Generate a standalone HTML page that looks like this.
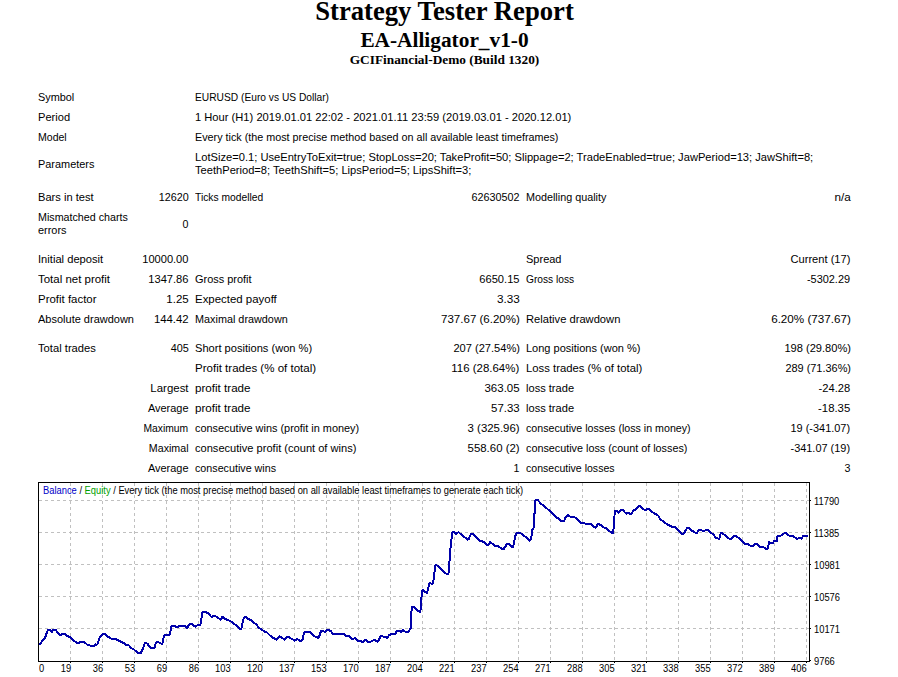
<!DOCTYPE html>
<html><head><meta charset="utf-8"><style>
html,body{margin:0;padding:0;background:#fff;width:898px;height:677px;overflow:hidden;position:relative}
.t{position:absolute;font-family:"Liberation Sans",sans-serif;font-size:10.67px;line-height:13px;white-space:nowrap;color:#000}
.c{position:absolute;font-family:"Liberation Sans",sans-serif;font-size:10px;line-height:12px;white-space:nowrap;color:#000;transform:scaleX(0.935);transform-origin:left center}
.c.rr{transform-origin:right center}
.h{position:absolute;left:0;width:889px;text-align:center;font-family:"Liberation Serif",serif;font-weight:bold;white-space:nowrap;color:#000}
</style></head><body>
<div class="h" style="top:-4px;font-size:26.67px;line-height:30px">Strategy Tester Report</div>
<div class="h" style="top:28px;font-size:21.33px;line-height:24px">EA-Alligator_v1-0</div>
<div class="h" style="top:52px;font-size:13.33px;line-height:16px">GCIFinancial-Demo (Build 1320)</div>
<div class="t" style="top:91px;left:38px;transform:scaleX(1.021);transform-origin:left center">Symbol</div>
<div class="t" style="top:91px;left:195px;transform:scaleX(0.959);transform-origin:left center">EURUSD (Euro vs US Dollar)</div>
<div class="t" style="top:111px;left:38px;transform:scaleX(1.041);transform-origin:left center">Period</div>
<div class="t" style="top:111px;left:195px;transform:scaleX(1.047);transform-origin:left center">1 Hour (H1) 2019.01.01 22:02 - 2021.01.11 23:59 (2019.03.01 - 2020.12.01)</div>
<div class="t" style="top:131px;left:38px;transform:scaleX(0.989);transform-origin:left center">Model</div>
<div class="t" style="top:131px;left:195px;transform:scaleX(1.011);transform-origin:left center">Every tick (the most precise method based on all available least timeframes)</div>
<div class="t" style="top:158px;left:38px;transform:scaleX(1.024);transform-origin:left center">Parameters</div>
<div class="t" style="top:151px;left:195px;transform:scaleX(1.046);transform-origin:left center">LotSize=0.1; UseEntryToExit=true; StopLoss=20; TakeProfit=50; Slippage=2; TradeEnabled=true; JawPeriod=13; JawShift=8;</div>
<div class="t" style="top:164px;left:195px;transform:scaleX(1.044);transform-origin:left center">TeethPeriod=8; TeethShift=5; LipsPeriod=5; LipsShift=3;</div>
<div class="t" style="top:191px;left:38px;transform:scaleX(1.044);transform-origin:left center">Bars in test</div>
<div class="t" style="top:191px;right:709.5px;transform:scaleX(1.011);transform-origin:right center">12620</div>
<div class="t" style="top:191px;left:195px;transform:scaleX(0.964);transform-origin:left center">Ticks modelled</div>
<div class="t" style="top:191px;right:378.5px;transform:scaleX(1.013);transform-origin:right center">62630502</div>
<div class="t" style="top:191px;left:526px;transform:scaleX(1.012);transform-origin:left center">Modelling quality</div>
<div class="t" style="top:191px;right:47.5px;transform:scaleX(1.1);transform-origin:right center">n/a</div>
<div class="t" style="top:211px;left:38px;transform:scaleX(1.005);transform-origin:left center">Mismatched charts</div>
<div class="t" style="top:224px;left:38px;transform:scaleX(1.025);transform-origin:left center">errors</div>
<div class="t" style="top:218px;right:709.5px">0</div>
<div class="t" style="top:253px;left:38px;transform:scaleX(1.048);transform-origin:left center">Initial deposit</div>
<div class="t" style="top:253px;right:709.5px;transform:scaleX(1.04);transform-origin:right center">10000.00</div>
<div class="t" style="top:253px;left:526px;transform:scaleX(1.033);transform-origin:left center">Spread</div>
<div class="t" style="top:253px;right:47.5px;transform:scaleX(1.044);transform-origin:right center">Current (17)</div>
<div class="t" style="top:273px;left:38px;transform:scaleX(1.076);transform-origin:left center">Total net profit</div>
<div class="t" style="top:273px;right:709.5px;transform:scaleX(1.046);transform-origin:right center">1347.86</div>
<div class="t" style="top:273px;left:195px;transform:scaleX(1.027);transform-origin:left center">Gross profit</div>
<div class="t" style="top:273px;right:378.5px;transform:scaleX(1.045);transform-origin:right center">6650.15</div>
<div class="t" style="top:273px;left:526px;transform:scaleX(0.956);transform-origin:left center">Gross loss</div>
<div class="t" style="top:273px;right:47.5px;transform:scaleX(1.026);transform-origin:right center">-5302.29</div>
<div class="t" style="top:293px;left:38px;transform:scaleX(1.074);transform-origin:left center">Profit factor</div>
<div class="t" style="top:293px;right:709.5px;transform:scaleX(1.079);transform-origin:right center">1.25</div>
<div class="t" style="top:293px;left:195px;transform:scaleX(1.073);transform-origin:left center">Expected payoff</div>
<div class="t" style="top:293px;right:378.5px;transform:scaleX(1.1);transform-origin:right center">3.33</div>
<div class="t" style="top:313px;left:38px;transform:scaleX(1.032);transform-origin:left center">Absolute drawdown</div>
<div class="t" style="top:313px;right:709.5px;transform:scaleX(1.065);transform-origin:right center">144.42</div>
<div class="t" style="top:313px;left:195px;transform:scaleX(1.017);transform-origin:left center">Maximal drawdown</div>
<div class="t" style="top:313px;right:378.5px;transform:scaleX(1.082);transform-origin:right center">737.67 (6.20%)</div>
<div class="t" style="top:313px;left:526px;transform:scaleX(1.048);transform-origin:left center">Relative drawdown</div>
<div class="t" style="top:313px;right:47.5px;transform:scaleX(1.094);transform-origin:right center">6.20% (737.67)</div>
<div class="t" style="top:342px;left:38px;transform:scaleX(1.051);transform-origin:left center">Total trades</div>
<div class="t" style="top:342px;right:709.5px;transform:scaleX(1.018);transform-origin:right center">405</div>
<div class="t" style="top:342px;left:195px;transform:scaleX(1.041);transform-origin:left center">Short positions (won %)</div>
<div class="t" style="top:342px;right:378.5px;transform:scaleX(1.041);transform-origin:right center">207 (27.54%)</div>
<div class="t" style="top:342px;left:526px;transform:scaleX(1.033);transform-origin:left center">Long positions (won %)</div>
<div class="t" style="top:342px;right:47.5px;transform:scaleX(1.041);transform-origin:right center">198 (29.80%)</div>
<div class="t" style="top:362px;left:195px;transform:scaleX(1.082);transform-origin:left center">Profit trades (% of total)</div>
<div class="t" style="top:362px;right:378.5px;transform:scaleX(1.074);transform-origin:right center">116 (28.64%)</div>
<div class="t" style="top:362px;left:526px;transform:scaleX(1.061);transform-origin:left center">Loss trades (% of total)</div>
<div class="t" style="top:362px;right:47.5px;transform:scaleX(1.025);transform-origin:right center">289 (71.36%)</div>
<div class="t" style="top:382px;right:709.5px;transform:scaleX(1.074);transform-origin:right center">Largest</div>
<div class="t" style="top:382px;left:195px;transform:scaleX(1.09);transform-origin:left center">profit trade</div>
<div class="t" style="top:382px;right:378.5px;transform:scaleX(1.077);transform-origin:right center">363.05</div>
<div class="t" style="top:382px;left:526px;transform:scaleX(1.04);transform-origin:left center">loss trade</div>
<div class="t" style="top:382px;right:47.5px;transform:scaleX(1.047);transform-origin:right center">-24.28</div>
<div class="t" style="top:402px;right:709.5px;transform:scaleX(1.026);transform-origin:right center">Average</div>
<div class="t" style="top:402px;left:195px;transform:scaleX(1.09);transform-origin:left center">profit trade</div>
<div class="t" style="top:402px;right:378.5px;transform:scaleX(1.072);transform-origin:right center">57.33</div>
<div class="t" style="top:402px;left:526px;transform:scaleX(1.04);transform-origin:left center">loss trade</div>
<div class="t" style="top:402px;right:47.5px;transform:scaleX(1.063);transform-origin:right center">-18.35</div>
<div class="t" style="top:422px;right:709.5px;transform:scaleX(0.967);transform-origin:right center">Maximum</div>
<div class="t" style="top:422px;left:195px;transform:scaleX(1.023);transform-origin:left center">consecutive wins (profit in money)</div>
<div class="t" style="top:422px;right:378.5px;transform:scaleX(1.07);transform-origin:right center">3 (325.96)</div>
<div class="t" style="top:422px;left:526px">consecutive losses (loss in money)</div>
<div class="t" style="top:422px;right:47.5px;transform:scaleX(1.025);transform-origin:right center">19 (-341.07)</div>
<div class="t" style="top:442px;right:709.5px">Maximal</div>
<div class="t" style="top:442px;left:195px;transform:scaleX(1.04);transform-origin:left center">consecutive profit (count of wins)</div>
<div class="t" style="top:442px;right:378.5px;transform:scaleX(1.07);transform-origin:right center">558.60 (2)</div>
<div class="t" style="top:442px;left:526px;transform:scaleX(1.013);transform-origin:left center">consecutive loss (count of losses)</div>
<div class="t" style="top:442px;right:47.5px;transform:scaleX(1.026);transform-origin:right center">-341.07 (19)</div>
<div class="t" style="top:462px;right:709.5px;transform:scaleX(1.026);transform-origin:right center">Average</div>
<div class="t" style="top:462px;left:195px;transform:scaleX(1.006);transform-origin:left center">consecutive wins</div>
<div class="t" style="top:462px;right:378.5px">1</div>
<div class="t" style="top:462px;left:526px;transform:scaleX(0.99);transform-origin:left center">consecutive losses</div>
<div class="t" style="top:462px;right:47.5px">3</div>
<svg width="898" height="677" style="position:absolute;left:0;top:0">
<path fill="#c0c0c0" d="M70 483h1v3h-1zM70 489h1v3h-1zM70 495h1v3h-1zM70 501h1v3h-1zM70 507h1v3h-1zM70 513h1v3h-1zM70 519h1v3h-1zM70 525h1v3h-1zM70 531h1v3h-1zM70 537h1v3h-1zM70 543h1v3h-1zM70 549h1v3h-1zM70 555h1v3h-1zM70 561h1v3h-1zM70 567h1v3h-1zM70 573h1v3h-1zM70 579h1v3h-1zM70 585h1v3h-1zM70 591h1v3h-1zM70 597h1v3h-1zM70 603h1v3h-1zM70 609h1v3h-1zM70 615h1v3h-1zM70 621h1v3h-1zM70 627h1v3h-1zM70 633h1v3h-1zM70 639h1v3h-1zM70 645h1v3h-1zM70 651h1v3h-1zM70 657h1v3h-1zM102 483h1v3h-1zM102 489h1v3h-1zM102 495h1v3h-1zM102 501h1v3h-1zM102 507h1v3h-1zM102 513h1v3h-1zM102 519h1v3h-1zM102 525h1v3h-1zM102 531h1v3h-1zM102 537h1v3h-1zM102 543h1v3h-1zM102 549h1v3h-1zM102 555h1v3h-1zM102 561h1v3h-1zM102 567h1v3h-1zM102 573h1v3h-1zM102 579h1v3h-1zM102 585h1v3h-1zM102 591h1v3h-1zM102 597h1v3h-1zM102 603h1v3h-1zM102 609h1v3h-1zM102 615h1v3h-1zM102 621h1v3h-1zM102 627h1v3h-1zM102 633h1v3h-1zM102 639h1v3h-1zM102 645h1v3h-1zM102 651h1v3h-1zM102 657h1v3h-1zM134 483h1v3h-1zM134 489h1v3h-1zM134 495h1v3h-1zM134 501h1v3h-1zM134 507h1v3h-1zM134 513h1v3h-1zM134 519h1v3h-1zM134 525h1v3h-1zM134 531h1v3h-1zM134 537h1v3h-1zM134 543h1v3h-1zM134 549h1v3h-1zM134 555h1v3h-1zM134 561h1v3h-1zM134 567h1v3h-1zM134 573h1v3h-1zM134 579h1v3h-1zM134 585h1v3h-1zM134 591h1v3h-1zM134 597h1v3h-1zM134 603h1v3h-1zM134 609h1v3h-1zM134 615h1v3h-1zM134 621h1v3h-1zM134 627h1v3h-1zM134 633h1v3h-1zM134 639h1v3h-1zM134 645h1v3h-1zM134 651h1v3h-1zM134 657h1v3h-1zM166 483h1v3h-1zM166 489h1v3h-1zM166 495h1v3h-1zM166 501h1v3h-1zM166 507h1v3h-1zM166 513h1v3h-1zM166 519h1v3h-1zM166 525h1v3h-1zM166 531h1v3h-1zM166 537h1v3h-1zM166 543h1v3h-1zM166 549h1v3h-1zM166 555h1v3h-1zM166 561h1v3h-1zM166 567h1v3h-1zM166 573h1v3h-1zM166 579h1v3h-1zM166 585h1v3h-1zM166 591h1v3h-1zM166 597h1v3h-1zM166 603h1v3h-1zM166 609h1v3h-1zM166 615h1v3h-1zM166 621h1v3h-1zM166 627h1v3h-1zM166 633h1v3h-1zM166 639h1v3h-1zM166 645h1v3h-1zM166 651h1v3h-1zM166 657h1v3h-1zM198 483h1v3h-1zM198 489h1v3h-1zM198 495h1v3h-1zM198 501h1v3h-1zM198 507h1v3h-1zM198 513h1v3h-1zM198 519h1v3h-1zM198 525h1v3h-1zM198 531h1v3h-1zM198 537h1v3h-1zM198 543h1v3h-1zM198 549h1v3h-1zM198 555h1v3h-1zM198 561h1v3h-1zM198 567h1v3h-1zM198 573h1v3h-1zM198 579h1v3h-1zM198 585h1v3h-1zM198 591h1v3h-1zM198 597h1v3h-1zM198 603h1v3h-1zM198 609h1v3h-1zM198 615h1v3h-1zM198 621h1v3h-1zM198 627h1v3h-1zM198 633h1v3h-1zM198 639h1v3h-1zM198 645h1v3h-1zM198 651h1v3h-1zM198 657h1v3h-1zM230 483h1v3h-1zM230 489h1v3h-1zM230 495h1v3h-1zM230 501h1v3h-1zM230 507h1v3h-1zM230 513h1v3h-1zM230 519h1v3h-1zM230 525h1v3h-1zM230 531h1v3h-1zM230 537h1v3h-1zM230 543h1v3h-1zM230 549h1v3h-1zM230 555h1v3h-1zM230 561h1v3h-1zM230 567h1v3h-1zM230 573h1v3h-1zM230 579h1v3h-1zM230 585h1v3h-1zM230 591h1v3h-1zM230 597h1v3h-1zM230 603h1v3h-1zM230 609h1v3h-1zM230 615h1v3h-1zM230 621h1v3h-1zM230 627h1v3h-1zM230 633h1v3h-1zM230 639h1v3h-1zM230 645h1v3h-1zM230 651h1v3h-1zM230 657h1v3h-1zM262 483h1v3h-1zM262 489h1v3h-1zM262 495h1v3h-1zM262 501h1v3h-1zM262 507h1v3h-1zM262 513h1v3h-1zM262 519h1v3h-1zM262 525h1v3h-1zM262 531h1v3h-1zM262 537h1v3h-1zM262 543h1v3h-1zM262 549h1v3h-1zM262 555h1v3h-1zM262 561h1v3h-1zM262 567h1v3h-1zM262 573h1v3h-1zM262 579h1v3h-1zM262 585h1v3h-1zM262 591h1v3h-1zM262 597h1v3h-1zM262 603h1v3h-1zM262 609h1v3h-1zM262 615h1v3h-1zM262 621h1v3h-1zM262 627h1v3h-1zM262 633h1v3h-1zM262 639h1v3h-1zM262 645h1v3h-1zM262 651h1v3h-1zM262 657h1v3h-1zM294 483h1v3h-1zM294 489h1v3h-1zM294 495h1v3h-1zM294 501h1v3h-1zM294 507h1v3h-1zM294 513h1v3h-1zM294 519h1v3h-1zM294 525h1v3h-1zM294 531h1v3h-1zM294 537h1v3h-1zM294 543h1v3h-1zM294 549h1v3h-1zM294 555h1v3h-1zM294 561h1v3h-1zM294 567h1v3h-1zM294 573h1v3h-1zM294 579h1v3h-1zM294 585h1v3h-1zM294 591h1v3h-1zM294 597h1v3h-1zM294 603h1v3h-1zM294 609h1v3h-1zM294 615h1v3h-1zM294 621h1v3h-1zM294 627h1v3h-1zM294 633h1v3h-1zM294 639h1v3h-1zM294 645h1v3h-1zM294 651h1v3h-1zM294 657h1v3h-1zM326 483h1v3h-1zM326 489h1v3h-1zM326 495h1v3h-1zM326 501h1v3h-1zM326 507h1v3h-1zM326 513h1v3h-1zM326 519h1v3h-1zM326 525h1v3h-1zM326 531h1v3h-1zM326 537h1v3h-1zM326 543h1v3h-1zM326 549h1v3h-1zM326 555h1v3h-1zM326 561h1v3h-1zM326 567h1v3h-1zM326 573h1v3h-1zM326 579h1v3h-1zM326 585h1v3h-1zM326 591h1v3h-1zM326 597h1v3h-1zM326 603h1v3h-1zM326 609h1v3h-1zM326 615h1v3h-1zM326 621h1v3h-1zM326 627h1v3h-1zM326 633h1v3h-1zM326 639h1v3h-1zM326 645h1v3h-1zM326 651h1v3h-1zM326 657h1v3h-1zM358 483h1v3h-1zM358 489h1v3h-1zM358 495h1v3h-1zM358 501h1v3h-1zM358 507h1v3h-1zM358 513h1v3h-1zM358 519h1v3h-1zM358 525h1v3h-1zM358 531h1v3h-1zM358 537h1v3h-1zM358 543h1v3h-1zM358 549h1v3h-1zM358 555h1v3h-1zM358 561h1v3h-1zM358 567h1v3h-1zM358 573h1v3h-1zM358 579h1v3h-1zM358 585h1v3h-1zM358 591h1v3h-1zM358 597h1v3h-1zM358 603h1v3h-1zM358 609h1v3h-1zM358 615h1v3h-1zM358 621h1v3h-1zM358 627h1v3h-1zM358 633h1v3h-1zM358 639h1v3h-1zM358 645h1v3h-1zM358 651h1v3h-1zM358 657h1v3h-1zM390 483h1v3h-1zM390 489h1v3h-1zM390 495h1v3h-1zM390 501h1v3h-1zM390 507h1v3h-1zM390 513h1v3h-1zM390 519h1v3h-1zM390 525h1v3h-1zM390 531h1v3h-1zM390 537h1v3h-1zM390 543h1v3h-1zM390 549h1v3h-1zM390 555h1v3h-1zM390 561h1v3h-1zM390 567h1v3h-1zM390 573h1v3h-1zM390 579h1v3h-1zM390 585h1v3h-1zM390 591h1v3h-1zM390 597h1v3h-1zM390 603h1v3h-1zM390 609h1v3h-1zM390 615h1v3h-1zM390 621h1v3h-1zM390 627h1v3h-1zM390 633h1v3h-1zM390 639h1v3h-1zM390 645h1v3h-1zM390 651h1v3h-1zM390 657h1v3h-1zM422 483h1v3h-1zM422 489h1v3h-1zM422 495h1v3h-1zM422 501h1v3h-1zM422 507h1v3h-1zM422 513h1v3h-1zM422 519h1v3h-1zM422 525h1v3h-1zM422 531h1v3h-1zM422 537h1v3h-1zM422 543h1v3h-1zM422 549h1v3h-1zM422 555h1v3h-1zM422 561h1v3h-1zM422 567h1v3h-1zM422 573h1v3h-1zM422 579h1v3h-1zM422 585h1v3h-1zM422 591h1v3h-1zM422 597h1v3h-1zM422 603h1v3h-1zM422 609h1v3h-1zM422 615h1v3h-1zM422 621h1v3h-1zM422 627h1v3h-1zM422 633h1v3h-1zM422 639h1v3h-1zM422 645h1v3h-1zM422 651h1v3h-1zM422 657h1v3h-1zM454 483h1v3h-1zM454 489h1v3h-1zM454 495h1v3h-1zM454 501h1v3h-1zM454 507h1v3h-1zM454 513h1v3h-1zM454 519h1v3h-1zM454 525h1v3h-1zM454 531h1v3h-1zM454 537h1v3h-1zM454 543h1v3h-1zM454 549h1v3h-1zM454 555h1v3h-1zM454 561h1v3h-1zM454 567h1v3h-1zM454 573h1v3h-1zM454 579h1v3h-1zM454 585h1v3h-1zM454 591h1v3h-1zM454 597h1v3h-1zM454 603h1v3h-1zM454 609h1v3h-1zM454 615h1v3h-1zM454 621h1v3h-1zM454 627h1v3h-1zM454 633h1v3h-1zM454 639h1v3h-1zM454 645h1v3h-1zM454 651h1v3h-1zM454 657h1v3h-1zM486 483h1v3h-1zM486 489h1v3h-1zM486 495h1v3h-1zM486 501h1v3h-1zM486 507h1v3h-1zM486 513h1v3h-1zM486 519h1v3h-1zM486 525h1v3h-1zM486 531h1v3h-1zM486 537h1v3h-1zM486 543h1v3h-1zM486 549h1v3h-1zM486 555h1v3h-1zM486 561h1v3h-1zM486 567h1v3h-1zM486 573h1v3h-1zM486 579h1v3h-1zM486 585h1v3h-1zM486 591h1v3h-1zM486 597h1v3h-1zM486 603h1v3h-1zM486 609h1v3h-1zM486 615h1v3h-1zM486 621h1v3h-1zM486 627h1v3h-1zM486 633h1v3h-1zM486 639h1v3h-1zM486 645h1v3h-1zM486 651h1v3h-1zM486 657h1v3h-1zM518 483h1v3h-1zM518 489h1v3h-1zM518 495h1v3h-1zM518 501h1v3h-1zM518 507h1v3h-1zM518 513h1v3h-1zM518 519h1v3h-1zM518 525h1v3h-1zM518 531h1v3h-1zM518 537h1v3h-1zM518 543h1v3h-1zM518 549h1v3h-1zM518 555h1v3h-1zM518 561h1v3h-1zM518 567h1v3h-1zM518 573h1v3h-1zM518 579h1v3h-1zM518 585h1v3h-1zM518 591h1v3h-1zM518 597h1v3h-1zM518 603h1v3h-1zM518 609h1v3h-1zM518 615h1v3h-1zM518 621h1v3h-1zM518 627h1v3h-1zM518 633h1v3h-1zM518 639h1v3h-1zM518 645h1v3h-1zM518 651h1v3h-1zM518 657h1v3h-1zM550 483h1v3h-1zM550 489h1v3h-1zM550 495h1v3h-1zM550 501h1v3h-1zM550 507h1v3h-1zM550 513h1v3h-1zM550 519h1v3h-1zM550 525h1v3h-1zM550 531h1v3h-1zM550 537h1v3h-1zM550 543h1v3h-1zM550 549h1v3h-1zM550 555h1v3h-1zM550 561h1v3h-1zM550 567h1v3h-1zM550 573h1v3h-1zM550 579h1v3h-1zM550 585h1v3h-1zM550 591h1v3h-1zM550 597h1v3h-1zM550 603h1v3h-1zM550 609h1v3h-1zM550 615h1v3h-1zM550 621h1v3h-1zM550 627h1v3h-1zM550 633h1v3h-1zM550 639h1v3h-1zM550 645h1v3h-1zM550 651h1v3h-1zM550 657h1v3h-1zM582 483h1v3h-1zM582 489h1v3h-1zM582 495h1v3h-1zM582 501h1v3h-1zM582 507h1v3h-1zM582 513h1v3h-1zM582 519h1v3h-1zM582 525h1v3h-1zM582 531h1v3h-1zM582 537h1v3h-1zM582 543h1v3h-1zM582 549h1v3h-1zM582 555h1v3h-1zM582 561h1v3h-1zM582 567h1v3h-1zM582 573h1v3h-1zM582 579h1v3h-1zM582 585h1v3h-1zM582 591h1v3h-1zM582 597h1v3h-1zM582 603h1v3h-1zM582 609h1v3h-1zM582 615h1v3h-1zM582 621h1v3h-1zM582 627h1v3h-1zM582 633h1v3h-1zM582 639h1v3h-1zM582 645h1v3h-1zM582 651h1v3h-1zM582 657h1v3h-1zM614 483h1v3h-1zM614 489h1v3h-1zM614 495h1v3h-1zM614 501h1v3h-1zM614 507h1v3h-1zM614 513h1v3h-1zM614 519h1v3h-1zM614 525h1v3h-1zM614 531h1v3h-1zM614 537h1v3h-1zM614 543h1v3h-1zM614 549h1v3h-1zM614 555h1v3h-1zM614 561h1v3h-1zM614 567h1v3h-1zM614 573h1v3h-1zM614 579h1v3h-1zM614 585h1v3h-1zM614 591h1v3h-1zM614 597h1v3h-1zM614 603h1v3h-1zM614 609h1v3h-1zM614 615h1v3h-1zM614 621h1v3h-1zM614 627h1v3h-1zM614 633h1v3h-1zM614 639h1v3h-1zM614 645h1v3h-1zM614 651h1v3h-1zM614 657h1v3h-1zM646 483h1v3h-1zM646 489h1v3h-1zM646 495h1v3h-1zM646 501h1v3h-1zM646 507h1v3h-1zM646 513h1v3h-1zM646 519h1v3h-1zM646 525h1v3h-1zM646 531h1v3h-1zM646 537h1v3h-1zM646 543h1v3h-1zM646 549h1v3h-1zM646 555h1v3h-1zM646 561h1v3h-1zM646 567h1v3h-1zM646 573h1v3h-1zM646 579h1v3h-1zM646 585h1v3h-1zM646 591h1v3h-1zM646 597h1v3h-1zM646 603h1v3h-1zM646 609h1v3h-1zM646 615h1v3h-1zM646 621h1v3h-1zM646 627h1v3h-1zM646 633h1v3h-1zM646 639h1v3h-1zM646 645h1v3h-1zM646 651h1v3h-1zM646 657h1v3h-1zM678 483h1v3h-1zM678 489h1v3h-1zM678 495h1v3h-1zM678 501h1v3h-1zM678 507h1v3h-1zM678 513h1v3h-1zM678 519h1v3h-1zM678 525h1v3h-1zM678 531h1v3h-1zM678 537h1v3h-1zM678 543h1v3h-1zM678 549h1v3h-1zM678 555h1v3h-1zM678 561h1v3h-1zM678 567h1v3h-1zM678 573h1v3h-1zM678 579h1v3h-1zM678 585h1v3h-1zM678 591h1v3h-1zM678 597h1v3h-1zM678 603h1v3h-1zM678 609h1v3h-1zM678 615h1v3h-1zM678 621h1v3h-1zM678 627h1v3h-1zM678 633h1v3h-1zM678 639h1v3h-1zM678 645h1v3h-1zM678 651h1v3h-1zM678 657h1v3h-1zM710 483h1v3h-1zM710 489h1v3h-1zM710 495h1v3h-1zM710 501h1v3h-1zM710 507h1v3h-1zM710 513h1v3h-1zM710 519h1v3h-1zM710 525h1v3h-1zM710 531h1v3h-1zM710 537h1v3h-1zM710 543h1v3h-1zM710 549h1v3h-1zM710 555h1v3h-1zM710 561h1v3h-1zM710 567h1v3h-1zM710 573h1v3h-1zM710 579h1v3h-1zM710 585h1v3h-1zM710 591h1v3h-1zM710 597h1v3h-1zM710 603h1v3h-1zM710 609h1v3h-1zM710 615h1v3h-1zM710 621h1v3h-1zM710 627h1v3h-1zM710 633h1v3h-1zM710 639h1v3h-1zM710 645h1v3h-1zM710 651h1v3h-1zM710 657h1v3h-1zM742 483h1v3h-1zM742 489h1v3h-1zM742 495h1v3h-1zM742 501h1v3h-1zM742 507h1v3h-1zM742 513h1v3h-1zM742 519h1v3h-1zM742 525h1v3h-1zM742 531h1v3h-1zM742 537h1v3h-1zM742 543h1v3h-1zM742 549h1v3h-1zM742 555h1v3h-1zM742 561h1v3h-1zM742 567h1v3h-1zM742 573h1v3h-1zM742 579h1v3h-1zM742 585h1v3h-1zM742 591h1v3h-1zM742 597h1v3h-1zM742 603h1v3h-1zM742 609h1v3h-1zM742 615h1v3h-1zM742 621h1v3h-1zM742 627h1v3h-1zM742 633h1v3h-1zM742 639h1v3h-1zM742 645h1v3h-1zM742 651h1v3h-1zM742 657h1v3h-1zM774 483h1v3h-1zM774 489h1v3h-1zM774 495h1v3h-1zM774 501h1v3h-1zM774 507h1v3h-1zM774 513h1v3h-1zM774 519h1v3h-1zM774 525h1v3h-1zM774 531h1v3h-1zM774 537h1v3h-1zM774 543h1v3h-1zM774 549h1v3h-1zM774 555h1v3h-1zM774 561h1v3h-1zM774 567h1v3h-1zM774 573h1v3h-1zM774 579h1v3h-1zM774 585h1v3h-1zM774 591h1v3h-1zM774 597h1v3h-1zM774 603h1v3h-1zM774 609h1v3h-1zM774 615h1v3h-1zM774 621h1v3h-1zM774 627h1v3h-1zM774 633h1v3h-1zM774 639h1v3h-1zM774 645h1v3h-1zM774 651h1v3h-1zM774 657h1v3h-1zM806 483h1v3h-1zM806 489h1v3h-1zM806 495h1v3h-1zM806 501h1v3h-1zM806 507h1v3h-1zM806 513h1v3h-1zM806 519h1v3h-1zM806 525h1v3h-1zM806 531h1v3h-1zM806 537h1v3h-1zM806 543h1v3h-1zM806 549h1v3h-1zM806 555h1v3h-1zM806 561h1v3h-1zM806 567h1v3h-1zM806 573h1v3h-1zM806 579h1v3h-1zM806 585h1v3h-1zM806 591h1v3h-1zM806 597h1v3h-1zM806 603h1v3h-1zM806 609h1v3h-1zM806 615h1v3h-1zM806 621h1v3h-1zM806 627h1v3h-1zM806 633h1v3h-1zM806 639h1v3h-1zM806 645h1v3h-1zM806 651h1v3h-1zM806 657h1v3h-1zM39 500h3v1h-3zM45 500h3v1h-3zM51 500h3v1h-3zM57 500h3v1h-3zM63 500h3v1h-3zM69 500h3v1h-3zM75 500h3v1h-3zM81 500h3v1h-3zM87 500h3v1h-3zM93 500h3v1h-3zM99 500h3v1h-3zM105 500h3v1h-3zM111 500h3v1h-3zM117 500h3v1h-3zM123 500h3v1h-3zM129 500h3v1h-3zM135 500h3v1h-3zM141 500h3v1h-3zM147 500h3v1h-3zM153 500h3v1h-3zM159 500h3v1h-3zM165 500h3v1h-3zM171 500h3v1h-3zM177 500h3v1h-3zM183 500h3v1h-3zM189 500h3v1h-3zM195 500h3v1h-3zM201 500h3v1h-3zM207 500h3v1h-3zM213 500h3v1h-3zM219 500h3v1h-3zM225 500h3v1h-3zM231 500h3v1h-3zM237 500h3v1h-3zM243 500h3v1h-3zM249 500h3v1h-3zM255 500h3v1h-3zM261 500h3v1h-3zM267 500h3v1h-3zM273 500h3v1h-3zM279 500h3v1h-3zM285 500h3v1h-3zM291 500h3v1h-3zM297 500h3v1h-3zM303 500h3v1h-3zM309 500h3v1h-3zM315 500h3v1h-3zM321 500h3v1h-3zM327 500h3v1h-3zM333 500h3v1h-3zM339 500h3v1h-3zM345 500h3v1h-3zM351 500h3v1h-3zM357 500h3v1h-3zM363 500h3v1h-3zM369 500h3v1h-3zM375 500h3v1h-3zM381 500h3v1h-3zM387 500h3v1h-3zM393 500h3v1h-3zM399 500h3v1h-3zM405 500h3v1h-3zM411 500h3v1h-3zM417 500h3v1h-3zM423 500h3v1h-3zM429 500h3v1h-3zM435 500h3v1h-3zM441 500h3v1h-3zM447 500h3v1h-3zM453 500h3v1h-3zM459 500h3v1h-3zM465 500h3v1h-3zM471 500h3v1h-3zM477 500h3v1h-3zM483 500h3v1h-3zM489 500h3v1h-3zM495 500h3v1h-3zM501 500h3v1h-3zM507 500h3v1h-3zM513 500h3v1h-3zM519 500h3v1h-3zM525 500h3v1h-3zM531 500h3v1h-3zM537 500h3v1h-3zM543 500h3v1h-3zM549 500h3v1h-3zM555 500h3v1h-3zM561 500h3v1h-3zM567 500h3v1h-3zM573 500h3v1h-3zM579 500h3v1h-3zM585 500h3v1h-3zM591 500h3v1h-3zM597 500h3v1h-3zM603 500h3v1h-3zM609 500h3v1h-3zM615 500h3v1h-3zM621 500h3v1h-3zM627 500h3v1h-3zM633 500h3v1h-3zM639 500h3v1h-3zM645 500h3v1h-3zM651 500h3v1h-3zM657 500h3v1h-3zM663 500h3v1h-3zM669 500h3v1h-3zM675 500h3v1h-3zM681 500h3v1h-3zM687 500h3v1h-3zM693 500h3v1h-3zM699 500h3v1h-3zM705 500h3v1h-3zM711 500h3v1h-3zM717 500h3v1h-3zM723 500h3v1h-3zM729 500h3v1h-3zM735 500h3v1h-3zM741 500h3v1h-3zM747 500h3v1h-3zM753 500h3v1h-3zM759 500h3v1h-3zM765 500h3v1h-3zM771 500h3v1h-3zM777 500h3v1h-3zM783 500h3v1h-3zM789 500h3v1h-3zM795 500h3v1h-3zM801 500h3v1h-3zM807 500h2v1h-2zM39 532h3v1h-3zM45 532h3v1h-3zM51 532h3v1h-3zM57 532h3v1h-3zM63 532h3v1h-3zM69 532h3v1h-3zM75 532h3v1h-3zM81 532h3v1h-3zM87 532h3v1h-3zM93 532h3v1h-3zM99 532h3v1h-3zM105 532h3v1h-3zM111 532h3v1h-3zM117 532h3v1h-3zM123 532h3v1h-3zM129 532h3v1h-3zM135 532h3v1h-3zM141 532h3v1h-3zM147 532h3v1h-3zM153 532h3v1h-3zM159 532h3v1h-3zM165 532h3v1h-3zM171 532h3v1h-3zM177 532h3v1h-3zM183 532h3v1h-3zM189 532h3v1h-3zM195 532h3v1h-3zM201 532h3v1h-3zM207 532h3v1h-3zM213 532h3v1h-3zM219 532h3v1h-3zM225 532h3v1h-3zM231 532h3v1h-3zM237 532h3v1h-3zM243 532h3v1h-3zM249 532h3v1h-3zM255 532h3v1h-3zM261 532h3v1h-3zM267 532h3v1h-3zM273 532h3v1h-3zM279 532h3v1h-3zM285 532h3v1h-3zM291 532h3v1h-3zM297 532h3v1h-3zM303 532h3v1h-3zM309 532h3v1h-3zM315 532h3v1h-3zM321 532h3v1h-3zM327 532h3v1h-3zM333 532h3v1h-3zM339 532h3v1h-3zM345 532h3v1h-3zM351 532h3v1h-3zM357 532h3v1h-3zM363 532h3v1h-3zM369 532h3v1h-3zM375 532h3v1h-3zM381 532h3v1h-3zM387 532h3v1h-3zM393 532h3v1h-3zM399 532h3v1h-3zM405 532h3v1h-3zM411 532h3v1h-3zM417 532h3v1h-3zM423 532h3v1h-3zM429 532h3v1h-3zM435 532h3v1h-3zM441 532h3v1h-3zM447 532h3v1h-3zM453 532h3v1h-3zM459 532h3v1h-3zM465 532h3v1h-3zM471 532h3v1h-3zM477 532h3v1h-3zM483 532h3v1h-3zM489 532h3v1h-3zM495 532h3v1h-3zM501 532h3v1h-3zM507 532h3v1h-3zM513 532h3v1h-3zM519 532h3v1h-3zM525 532h3v1h-3zM531 532h3v1h-3zM537 532h3v1h-3zM543 532h3v1h-3zM549 532h3v1h-3zM555 532h3v1h-3zM561 532h3v1h-3zM567 532h3v1h-3zM573 532h3v1h-3zM579 532h3v1h-3zM585 532h3v1h-3zM591 532h3v1h-3zM597 532h3v1h-3zM603 532h3v1h-3zM609 532h3v1h-3zM615 532h3v1h-3zM621 532h3v1h-3zM627 532h3v1h-3zM633 532h3v1h-3zM639 532h3v1h-3zM645 532h3v1h-3zM651 532h3v1h-3zM657 532h3v1h-3zM663 532h3v1h-3zM669 532h3v1h-3zM675 532h3v1h-3zM681 532h3v1h-3zM687 532h3v1h-3zM693 532h3v1h-3zM699 532h3v1h-3zM705 532h3v1h-3zM711 532h3v1h-3zM717 532h3v1h-3zM723 532h3v1h-3zM729 532h3v1h-3zM735 532h3v1h-3zM741 532h3v1h-3zM747 532h3v1h-3zM753 532h3v1h-3zM759 532h3v1h-3zM765 532h3v1h-3zM771 532h3v1h-3zM777 532h3v1h-3zM783 532h3v1h-3zM789 532h3v1h-3zM795 532h3v1h-3zM801 532h3v1h-3zM807 532h2v1h-2zM39 564h3v1h-3zM45 564h3v1h-3zM51 564h3v1h-3zM57 564h3v1h-3zM63 564h3v1h-3zM69 564h3v1h-3zM75 564h3v1h-3zM81 564h3v1h-3zM87 564h3v1h-3zM93 564h3v1h-3zM99 564h3v1h-3zM105 564h3v1h-3zM111 564h3v1h-3zM117 564h3v1h-3zM123 564h3v1h-3zM129 564h3v1h-3zM135 564h3v1h-3zM141 564h3v1h-3zM147 564h3v1h-3zM153 564h3v1h-3zM159 564h3v1h-3zM165 564h3v1h-3zM171 564h3v1h-3zM177 564h3v1h-3zM183 564h3v1h-3zM189 564h3v1h-3zM195 564h3v1h-3zM201 564h3v1h-3zM207 564h3v1h-3zM213 564h3v1h-3zM219 564h3v1h-3zM225 564h3v1h-3zM231 564h3v1h-3zM237 564h3v1h-3zM243 564h3v1h-3zM249 564h3v1h-3zM255 564h3v1h-3zM261 564h3v1h-3zM267 564h3v1h-3zM273 564h3v1h-3zM279 564h3v1h-3zM285 564h3v1h-3zM291 564h3v1h-3zM297 564h3v1h-3zM303 564h3v1h-3zM309 564h3v1h-3zM315 564h3v1h-3zM321 564h3v1h-3zM327 564h3v1h-3zM333 564h3v1h-3zM339 564h3v1h-3zM345 564h3v1h-3zM351 564h3v1h-3zM357 564h3v1h-3zM363 564h3v1h-3zM369 564h3v1h-3zM375 564h3v1h-3zM381 564h3v1h-3zM387 564h3v1h-3zM393 564h3v1h-3zM399 564h3v1h-3zM405 564h3v1h-3zM411 564h3v1h-3zM417 564h3v1h-3zM423 564h3v1h-3zM429 564h3v1h-3zM435 564h3v1h-3zM441 564h3v1h-3zM447 564h3v1h-3zM453 564h3v1h-3zM459 564h3v1h-3zM465 564h3v1h-3zM471 564h3v1h-3zM477 564h3v1h-3zM483 564h3v1h-3zM489 564h3v1h-3zM495 564h3v1h-3zM501 564h3v1h-3zM507 564h3v1h-3zM513 564h3v1h-3zM519 564h3v1h-3zM525 564h3v1h-3zM531 564h3v1h-3zM537 564h3v1h-3zM543 564h3v1h-3zM549 564h3v1h-3zM555 564h3v1h-3zM561 564h3v1h-3zM567 564h3v1h-3zM573 564h3v1h-3zM579 564h3v1h-3zM585 564h3v1h-3zM591 564h3v1h-3zM597 564h3v1h-3zM603 564h3v1h-3zM609 564h3v1h-3zM615 564h3v1h-3zM621 564h3v1h-3zM627 564h3v1h-3zM633 564h3v1h-3zM639 564h3v1h-3zM645 564h3v1h-3zM651 564h3v1h-3zM657 564h3v1h-3zM663 564h3v1h-3zM669 564h3v1h-3zM675 564h3v1h-3zM681 564h3v1h-3zM687 564h3v1h-3zM693 564h3v1h-3zM699 564h3v1h-3zM705 564h3v1h-3zM711 564h3v1h-3zM717 564h3v1h-3zM723 564h3v1h-3zM729 564h3v1h-3zM735 564h3v1h-3zM741 564h3v1h-3zM747 564h3v1h-3zM753 564h3v1h-3zM759 564h3v1h-3zM765 564h3v1h-3zM771 564h3v1h-3zM777 564h3v1h-3zM783 564h3v1h-3zM789 564h3v1h-3zM795 564h3v1h-3zM801 564h3v1h-3zM807 564h2v1h-2zM39 596h3v1h-3zM45 596h3v1h-3zM51 596h3v1h-3zM57 596h3v1h-3zM63 596h3v1h-3zM69 596h3v1h-3zM75 596h3v1h-3zM81 596h3v1h-3zM87 596h3v1h-3zM93 596h3v1h-3zM99 596h3v1h-3zM105 596h3v1h-3zM111 596h3v1h-3zM117 596h3v1h-3zM123 596h3v1h-3zM129 596h3v1h-3zM135 596h3v1h-3zM141 596h3v1h-3zM147 596h3v1h-3zM153 596h3v1h-3zM159 596h3v1h-3zM165 596h3v1h-3zM171 596h3v1h-3zM177 596h3v1h-3zM183 596h3v1h-3zM189 596h3v1h-3zM195 596h3v1h-3zM201 596h3v1h-3zM207 596h3v1h-3zM213 596h3v1h-3zM219 596h3v1h-3zM225 596h3v1h-3zM231 596h3v1h-3zM237 596h3v1h-3zM243 596h3v1h-3zM249 596h3v1h-3zM255 596h3v1h-3zM261 596h3v1h-3zM267 596h3v1h-3zM273 596h3v1h-3zM279 596h3v1h-3zM285 596h3v1h-3zM291 596h3v1h-3zM297 596h3v1h-3zM303 596h3v1h-3zM309 596h3v1h-3zM315 596h3v1h-3zM321 596h3v1h-3zM327 596h3v1h-3zM333 596h3v1h-3zM339 596h3v1h-3zM345 596h3v1h-3zM351 596h3v1h-3zM357 596h3v1h-3zM363 596h3v1h-3zM369 596h3v1h-3zM375 596h3v1h-3zM381 596h3v1h-3zM387 596h3v1h-3zM393 596h3v1h-3zM399 596h3v1h-3zM405 596h3v1h-3zM411 596h3v1h-3zM417 596h3v1h-3zM423 596h3v1h-3zM429 596h3v1h-3zM435 596h3v1h-3zM441 596h3v1h-3zM447 596h3v1h-3zM453 596h3v1h-3zM459 596h3v1h-3zM465 596h3v1h-3zM471 596h3v1h-3zM477 596h3v1h-3zM483 596h3v1h-3zM489 596h3v1h-3zM495 596h3v1h-3zM501 596h3v1h-3zM507 596h3v1h-3zM513 596h3v1h-3zM519 596h3v1h-3zM525 596h3v1h-3zM531 596h3v1h-3zM537 596h3v1h-3zM543 596h3v1h-3zM549 596h3v1h-3zM555 596h3v1h-3zM561 596h3v1h-3zM567 596h3v1h-3zM573 596h3v1h-3zM579 596h3v1h-3zM585 596h3v1h-3zM591 596h3v1h-3zM597 596h3v1h-3zM603 596h3v1h-3zM609 596h3v1h-3zM615 596h3v1h-3zM621 596h3v1h-3zM627 596h3v1h-3zM633 596h3v1h-3zM639 596h3v1h-3zM645 596h3v1h-3zM651 596h3v1h-3zM657 596h3v1h-3zM663 596h3v1h-3zM669 596h3v1h-3zM675 596h3v1h-3zM681 596h3v1h-3zM687 596h3v1h-3zM693 596h3v1h-3zM699 596h3v1h-3zM705 596h3v1h-3zM711 596h3v1h-3zM717 596h3v1h-3zM723 596h3v1h-3zM729 596h3v1h-3zM735 596h3v1h-3zM741 596h3v1h-3zM747 596h3v1h-3zM753 596h3v1h-3zM759 596h3v1h-3zM765 596h3v1h-3zM771 596h3v1h-3zM777 596h3v1h-3zM783 596h3v1h-3zM789 596h3v1h-3zM795 596h3v1h-3zM801 596h3v1h-3zM807 596h2v1h-2zM39 628h3v1h-3zM45 628h3v1h-3zM51 628h3v1h-3zM57 628h3v1h-3zM63 628h3v1h-3zM69 628h3v1h-3zM75 628h3v1h-3zM81 628h3v1h-3zM87 628h3v1h-3zM93 628h3v1h-3zM99 628h3v1h-3zM105 628h3v1h-3zM111 628h3v1h-3zM117 628h3v1h-3zM123 628h3v1h-3zM129 628h3v1h-3zM135 628h3v1h-3zM141 628h3v1h-3zM147 628h3v1h-3zM153 628h3v1h-3zM159 628h3v1h-3zM165 628h3v1h-3zM171 628h3v1h-3zM177 628h3v1h-3zM183 628h3v1h-3zM189 628h3v1h-3zM195 628h3v1h-3zM201 628h3v1h-3zM207 628h3v1h-3zM213 628h3v1h-3zM219 628h3v1h-3zM225 628h3v1h-3zM231 628h3v1h-3zM237 628h3v1h-3zM243 628h3v1h-3zM249 628h3v1h-3zM255 628h3v1h-3zM261 628h3v1h-3zM267 628h3v1h-3zM273 628h3v1h-3zM279 628h3v1h-3zM285 628h3v1h-3zM291 628h3v1h-3zM297 628h3v1h-3zM303 628h3v1h-3zM309 628h3v1h-3zM315 628h3v1h-3zM321 628h3v1h-3zM327 628h3v1h-3zM333 628h3v1h-3zM339 628h3v1h-3zM345 628h3v1h-3zM351 628h3v1h-3zM357 628h3v1h-3zM363 628h3v1h-3zM369 628h3v1h-3zM375 628h3v1h-3zM381 628h3v1h-3zM387 628h3v1h-3zM393 628h3v1h-3zM399 628h3v1h-3zM405 628h3v1h-3zM411 628h3v1h-3zM417 628h3v1h-3zM423 628h3v1h-3zM429 628h3v1h-3zM435 628h3v1h-3zM441 628h3v1h-3zM447 628h3v1h-3zM453 628h3v1h-3zM459 628h3v1h-3zM465 628h3v1h-3zM471 628h3v1h-3zM477 628h3v1h-3zM483 628h3v1h-3zM489 628h3v1h-3zM495 628h3v1h-3zM501 628h3v1h-3zM507 628h3v1h-3zM513 628h3v1h-3zM519 628h3v1h-3zM525 628h3v1h-3zM531 628h3v1h-3zM537 628h3v1h-3zM543 628h3v1h-3zM549 628h3v1h-3zM555 628h3v1h-3zM561 628h3v1h-3zM567 628h3v1h-3zM573 628h3v1h-3zM579 628h3v1h-3zM585 628h3v1h-3zM591 628h3v1h-3zM597 628h3v1h-3zM603 628h3v1h-3zM609 628h3v1h-3zM615 628h3v1h-3zM621 628h3v1h-3zM627 628h3v1h-3zM633 628h3v1h-3zM639 628h3v1h-3zM645 628h3v1h-3zM651 628h3v1h-3zM657 628h3v1h-3zM663 628h3v1h-3zM669 628h3v1h-3zM675 628h3v1h-3zM681 628h3v1h-3zM687 628h3v1h-3zM693 628h3v1h-3zM699 628h3v1h-3zM705 628h3v1h-3zM711 628h3v1h-3zM717 628h3v1h-3zM723 628h3v1h-3zM729 628h3v1h-3zM735 628h3v1h-3zM741 628h3v1h-3zM747 628h3v1h-3zM753 628h3v1h-3zM759 628h3v1h-3zM765 628h3v1h-3zM771 628h3v1h-3zM777 628h3v1h-3zM783 628h3v1h-3zM789 628h3v1h-3zM795 628h3v1h-3zM801 628h3v1h-3zM807 628h2v1h-2z"/>
<path fill="#000" d="M38 482h772v1h-772z M38 482h1v180h-1z M809 482h1v180h-1z M38 661h772v1h-772z"/>
<path fill="#000" d="M810 500h1v1h-1zM810 532h1v1h-1zM810 564h1v1h-1zM810 596h1v1h-1zM810 628h1v1h-1zM810 660h1v1h-1zM70 662h1v1h-1zM102 662h1v1h-1zM134 662h1v1h-1zM166 662h1v1h-1zM198 662h1v1h-1zM230 662h1v1h-1zM262 662h1v1h-1zM294 662h1v1h-1zM326 662h1v1h-1zM358 662h1v1h-1zM390 662h1v1h-1zM422 662h1v1h-1zM454 662h1v1h-1zM486 662h1v1h-1zM518 662h1v1h-1zM550 662h1v1h-1zM582 662h1v1h-1zM614 662h1v1h-1zM646 662h1v1h-1zM678 662h1v1h-1zM710 662h1v1h-1zM742 662h1v1h-1zM774 662h1v1h-1zM806 662h1v1h-1z"/>
<polyline points="39.0,643.5 41.0,643.5 42.0,640.5 44.0,639.5 45.0,638.0 46.0,635.0 47.0,632.0 48.0,630.0 50.0,630.0 52.0,632.0 53.0,630.0 56.0,630.0 57.0,632.5 59.0,634.0 61.0,635.5 62.0,633.5 65.0,633.5 67.0,636.0 70.0,637.0 72.0,639.0 74.0,641.0 78.0,643.5 80.0,642.0 84.0,642.0 86.0,643.5 88.0,645.3 93.0,645.8 94.0,646.6 95.0,644.4 97.2,644.8 98.5,641.2 99.9,637.2 101.6,635.0 103.0,634.0 105.2,634.0 107.4,636.3 109.6,637.7 112.3,639.0 115.8,639.0 118.5,640.6 121.2,641.8 123.8,643.0 126.0,644.8 129.1,645.4 131.3,648.3 134.0,649.6 136.2,651.4 138.0,653.0 140.7,653.0 142.9,648.8 144.6,643.4 147.3,643.4 149.1,646.1 151.7,648.3 154.2,648.5 156.0,642.7 158.2,641.9 160.4,643.2 162.2,644.5 163.1,640.5 164.0,635.2 166.2,635.4 169.7,634.8 170.6,630.8 171.5,626.3 174.6,626.2 177.3,627.1 179.5,625.9 185.2,625.9 187.0,628.8 189.2,624.1 191.9,624.1 195.4,626.8 198.1,624.8 200.3,625.5 201.2,620.6 202.5,611.7 205.2,612.2 208.3,612.9 211.0,616.6 212.1,616.6 215.2,615.9 217.9,617.9 221.0,619.7 222.3,616.6 224.5,618.5 227.6,620.0 232.0,621.9 235.6,625.0 238.3,627.2 240.9,629.7 242.0,626.3 243.1,619.7 245.3,616.6 248.0,618.8 251.1,620.1 253.8,622.8 256.4,624.1 258.6,627.7 261.3,629.0 264.4,631.7 267.1,632.6 269.5,635.0 273.1,637.9 277.1,639.7 279.3,636.2 281.5,637.2 284.6,639.9 286.8,636.8 289.0,637.1 291.7,638.8 294.8,640.8 297.0,639.0 300.1,640.8 302.3,640.6 303.7,633.7 305.0,631.9 310.3,632.1 312.5,634.6 315.6,636.8 318.3,637.9 319.6,635.5 321.0,631.0 323.6,631.5 325.7,631.7 327.4,629.7 331.0,631.0 332.8,633.9 343.8,633.9 346.0,635.9 348.7,635.9 351.4,638.8 353.6,638.8 354.9,637.7 358.0,640.8 361.1,641.0 362.9,642.7 365.1,639.7 368.2,641.8 370.4,641.8 372.2,640.8 374.4,639.9 377.5,641.8 378.9,640.3 380.2,636.3 386.2,636.7 387.1,638.5 388.9,635.4 391.1,634.3 395.5,633.6 396.8,631.0 399.9,631.2 401.3,631.9 403.0,630.1 404.8,631.6 408.4,631.6 410.6,628.6 411.0,617.2 411.9,607.0 413.7,607.0 417.2,610.1 420.3,612.6 421.2,601.3 422.1,589.8 424.3,591.1 427.0,593.3 428.3,588.0 429.2,583.1 431.4,583.5 432.9,584.0 434.2,575.5 435.1,565.3 436.8,565.3 441.3,569.3 444.8,572.9 448.4,574.6 449.3,564.0 450.1,553.4 451.0,542.3 452.4,532.1 454.1,532.1 456.3,533.9 458.6,532.1 463.4,536.5 468.3,539.9 471.0,533.9 472.7,533.9 476.7,537.4 480.1,540.8 483.2,541.7 488.1,545.7 490.3,542.0 494.7,545.7 497.8,545.9 503.2,549.7 507.1,543.9 509.4,543.9 512.9,547.9 514.2,541.3 516.0,533.3 520.0,532.9 524.9,536.4 530.2,540.8 531.5,536.0 532.4,529.8 534.0,527.2 534.3,513.9 534.9,513.0 535.3,499.8 537.5,499.8 541.5,504.2 543.3,505.1 548.6,510.0 556.6,517.9 558.4,518.4 561.0,521.0 564.1,521.0 565.9,516.6 568.1,515.0 570.3,516.8 574.3,516.8 577.0,519.3 581.0,523.0 584.1,523.0 586.7,524.1 590.5,523.9 595.4,527.9 598.1,523.9 600.3,524.8 604.7,527.9 606.5,528.4 610.0,531.5 613.2,533.7 614.0,522.2 614.9,510.6 617.1,511.1 618.9,512.9 620.7,509.8 622.9,509.9 626.0,513.7 628.2,512.9 631.3,514.6 633.5,510.2 636.2,509.3 638.4,506.0 640.2,506.0 645.1,510.6 646.7,508.9 648.9,508.9 652.4,512.0 656.4,514.6 658.6,516.0 660.4,519.5 665.3,522.9 667.9,524.8 671.5,526.6 674.6,527.0 678.1,530.1 683.0,534.8 684.8,531.9 687.0,528.2 689.2,528.4 692.3,530.9 695.4,532.8 697.2,532.8 698.1,530.1 703.7,530.7 708.1,530.0 710.8,532.7 713.4,534.3 715.6,537.6 719.2,539.1 720.9,532.9 722.7,533.4 726.7,536.5 730.3,539.6 733.4,536.5 736.0,536.0 740.0,539.1 744.4,543.6 748.0,544.0 750.6,546.0 753.3,546.5 754.6,544.0 757.2,544.0 759.9,546.7 763.4,547.1 767.0,549.3 768.3,546.7 769.0,541.8 771.0,543.6 773.2,542.7 774.1,540.9 776.7,541.3 777.6,535.6 781.2,535.6 784.7,532.9 786.0,532.9 789.1,535.6 793.1,536.0 796.7,538.7 799.8,538.2 801.5,538.7 802.9,536.0 807.7,536.0" fill="none" stroke="#0000aa" stroke-width="2" stroke-linejoin="bevel" stroke-linecap="butt" shape-rendering="crispEdges"/>
</svg>
<div class="c" style="left:814px;top:496px">11790</div>
<div class="c" style="left:814px;top:528px">11385</div>
<div class="c" style="left:814px;top:560px">10981</div>
<div class="c" style="left:814px;top:592px">10576</div>
<div class="c" style="left:814px;top:624px">10171</div>
<div class="c" style="left:814px;top:656px">9766</div>
<div class="c" style="left:39px;top:663px">0</div>
<div class="c rr" style="right:827px;top:663px">19</div>
<div class="c rr" style="right:795px;top:663px">36</div>
<div class="c rr" style="right:763px;top:663px">53</div>
<div class="c rr" style="right:731px;top:663px">69</div>
<div class="c rr" style="right:699px;top:663px">86</div>
<div class="c rr" style="right:667px;top:663px">103</div>
<div class="c rr" style="right:635px;top:663px">120</div>
<div class="c rr" style="right:603px;top:663px">137</div>
<div class="c rr" style="right:571px;top:663px">153</div>
<div class="c rr" style="right:539px;top:663px">170</div>
<div class="c rr" style="right:507px;top:663px">187</div>
<div class="c rr" style="right:475px;top:663px">204</div>
<div class="c rr" style="right:443px;top:663px">221</div>
<div class="c rr" style="right:411px;top:663px">237</div>
<div class="c rr" style="right:379px;top:663px">254</div>
<div class="c rr" style="right:347px;top:663px">271</div>
<div class="c rr" style="right:315px;top:663px">288</div>
<div class="c rr" style="right:283px;top:663px">305</div>
<div class="c rr" style="right:251px;top:663px">321</div>
<div class="c rr" style="right:219px;top:663px">338</div>
<div class="c rr" style="right:187px;top:663px">355</div>
<div class="c rr" style="right:155px;top:663px">372</div>
<div class="c rr" style="right:123px;top:663px">389</div>
<div class="c rr" style="right:91px;top:663px">406</div>
<div class="c" style="left:43px;top:485px"><span style="color:#0000c8">Balance</span> / <span style="color:#00a000">Equity</span> / Every tick (the most precise method based on all available least timeframes to generate each tick)</div>
</body></html>
